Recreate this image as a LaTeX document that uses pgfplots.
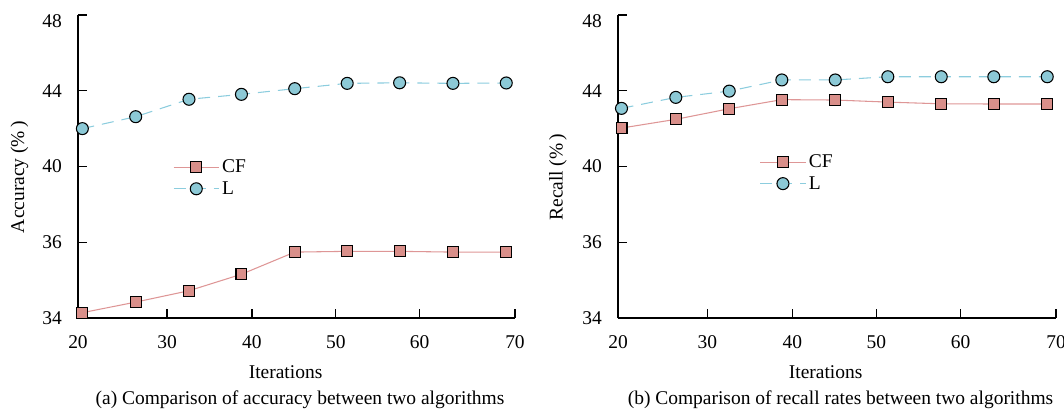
\documentclass[border=0pt]{standalone}
\usepackage{pgfplots}
\pgfplotsset{compat=1.18}
\usepackage{fontspec}
\setmainfont{Liberation Serif}
\definecolor{cffill}{RGB}{217,143,138}
\definecolor{cfline}{RGB}{222,150,150}
\definecolor{lfill}{RGB}{140,201,214}
\definecolor{lline}{RGB}{140,205,222}
\pgfplotsset{
  myaxis/.style={
    scale only axis,
    width=327.75pt, height=227.25pt,
    axis x line*=bottom, axis y line*=left,
    axis line style={line width=1pt, black},
    xmin=20, xmax=70, ymin=32, ymax=48,
    xtick={20,30.2,39.9,49.5,59.1,70},
    xticklabels={20,30,40,50,60,70},
    ytick={32,36,40,44},
    yticklabels={34,36,40,44},
    extra y ticks={48}, extra y tick labels={48},
    extra y tick style={yticklabel style={yshift=-4.5pt}},
    tick align=inside,
    major tick length=7pt,
    tick style={line width=1pt, black},
    /pgf/number format/assume math mode=true,
    font=\fontsize{14.6}{17}\selectfont,
    xticklabel style={yshift=-9.4pt},
    yticklabel style={xshift=-8.6pt},
    clip=false,
    legend cell align=left,
    legend style={draw=none, fill=none, inner sep=0pt, row sep=1pt,
      font=\fontsize{14.6}{17}\selectfont},
    legend image code/.code={
      \draw[mark repeat=2,mark phase=2,##1] plot coordinates {(0pt,0pt) (17pt,0pt) (34pt,0pt)};
    },
  },
  cfstyle/.style={color=cfline, line width=0.8pt, mark=square*,
    mark size=4.1pt, mark options={solid, fill=cffill, draw=black, line width=0.8pt}},
  lstyle/.style={color=lline, line width=0.8pt, dash pattern=on 9pt off 6pt, mark=*,
    mark size=4.5pt, mark options={solid, fill=lfill, draw=black, line width=0.8pt}},
}
\begin{document}
\begin{tikzpicture}
\useasboundingbox (-58.5pt,-72pt) rectangle (739.5pt,238.5pt);
\begin{axis}[myaxis,
  at={(0pt,0pt)}, anchor=origin,
  ylabel={Accuracy (\%\,)},
  ylabel style={at={(axis description cs:0,0.465)}, anchor=center, yshift=43.9pt},
  xlabel={Iterations},
  xlabel style={at={(axis description cs:0.475,0)}, anchor=center, yshift=-40.5pt},
  legend style={at={(axis description cs:0.217,0.462)}, anchor=west},
]
\addplot[cfstyle] coordinates {(20.5,32.28) (26.6,32.84) (32.7,33.44) (38.7,34.31) (44.8,35.48) (50.8,35.52) (56.8,35.52) (62.9,35.48) (69.0,35.48)};
\addlegendentry{CF}
\addplot[lstyle] coordinates {(20.5,42.0) (26.6,42.63) (32.7,43.55) (38.7,43.81) (44.8,44.11) (50.8,44.39) (56.8,44.42) (62.9,44.39) (69.0,44.41)};
\addlegendentry{L}
\node[anchor=center] at (axis description cs:0.508,0) [yshift=-61.5pt] {(a) Comparison of accuracy between two algorithms};
\end{axis}
\begin{axis}[myaxis,
  at={(405pt,0pt)}, anchor=origin, width=328.5pt,
  ylabel={Recall (\%\,)},
  ylabel style={at={(axis description cs:0,0.465)}, anchor=center, yshift=45pt},
  xlabel={Iterations},
  xlabel style={at={(axis description cs:0.474,0)}, anchor=center, yshift=-40.5pt},
  legend style={at={(axis description cs:0.323,0.479)}, anchor=west},
]
\addplot[cfstyle] coordinates {(20.4,42.03) (26.6,42.49) (32.7,43.05) (38.7,43.53) (44.8,43.51) (50.8,43.40) (56.9,43.31) (62.9,43.30) (69.0,43.30)};
\addlegendentry{CF}
\addplot[lstyle] coordinates {(20.4,43.07) (26.6,43.65) (32.7,43.98) (38.7,44.57) (44.8,44.57) (50.8,44.74) (56.9,44.74) (62.9,44.74) (69.0,44.74)};
\addlegendentry{L}
\node[anchor=center] at (axis description cs:0.508,0) [yshift=-61.5pt] {(b) Comparison of recall rates between two algorithms};
\end{axis}
\end{tikzpicture}
\end{document}
